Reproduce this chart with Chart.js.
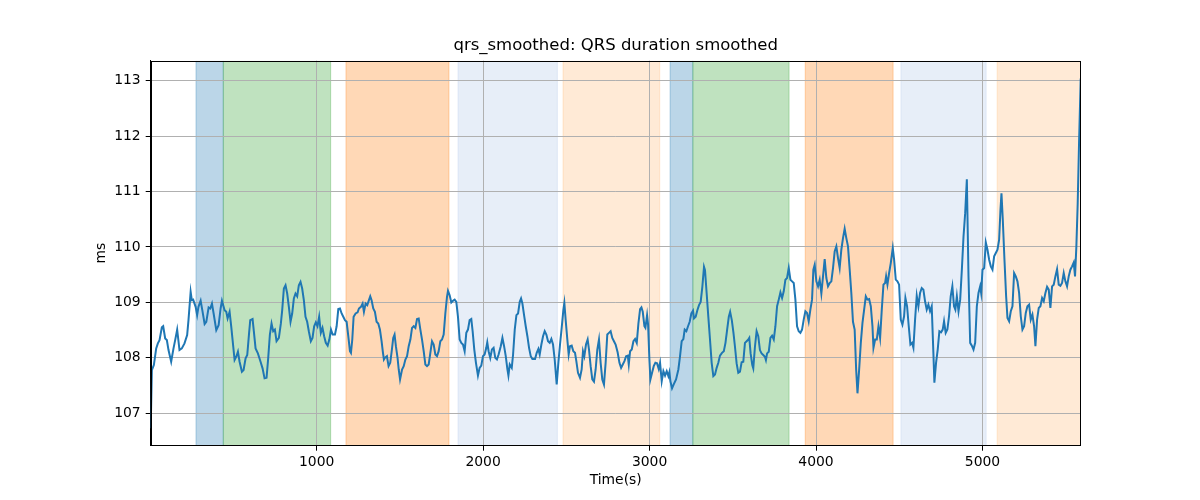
<!DOCTYPE html>
<html>
<head>
<meta charset="utf-8">
<title>qrs_smoothed</title>
<script src="https://cdn.jsdelivr.net/npm/chart.js@4"></script>
<style>
  html, body { margin: 0; padding: 0; background: #fff; }
  #chart { display: block; }
</style>
</head>
<body>
<canvas id="chart" width="1200" height="500"></canvas>
<script>
// time axis (s) and smoothed QRS duration (ms)
const times = [
  3, 10, 22, 36, 46, 56, 70, 78, 90, 100, 110, 126, 140, 150, 162, 176, 190, 206, 222, 230,
  243, 250, 258, 273, 282, 290, 303, 313, 327, 337, 351, 361, 371, 381, 397, 411, 423, 431, 447, 457,
  465, 477, 487, 499, 507, 517, 527, 537, 551, 561, 573, 583, 593, 601, 615, 623, 633, 647, 663, 675,
  687, 699, 709, 719, 729, 739, 749, 759, 773, 785, 793, 803, 813, 823, 833, 843, 853, 863, 873, 883,
  893, 903, 913, 923, 933, 943, 953, 965, 975, 985, 995, 1005, 1015, 1025, 1035, 1045, 1055, 1066, 1076, 1086,
  1096, 1110, 1120, 1130, 1140, 1150, 1160, 1170, 1180, 1190, 1200, 1206, 1214, 1222, 1234, 1246, 1254, 1266, 1276, 1284,
  1294, 1304, 1314, 1322, 1330, 1340, 1350, 1360, 1370, 1380, 1390, 1398, 1404, 1410, 1422, 1432, 1442, 1452, 1460, 1468,
  1476, 1486, 1493, 1501, 1513, 1523, 1533, 1543, 1553, 1563, 1573, 1583, 1593, 1603, 1613, 1623, 1633, 1643, 1653, 1663,
  1673, 1683, 1693, 1703, 1713, 1723, 1733, 1743, 1753, 1763, 1773, 1783, 1789, 1799, 1809, 1819, 1829, 1839, 1849, 1859,
  1869, 1879, 1889, 1899, 1909, 1919, 1929, 1937, 1947, 1957, 1969, 1979, 1989, 1999, 2009, 2019, 2025, 2033, 2043, 2053,
  2063, 2073, 2083, 2093, 2106, 2116, 2126, 2136, 2146, 2152, 2160, 2172, 2180, 2190, 2200, 2210, 2220, 2228, 2236, 2246,
  2256, 2266, 2276, 2286, 2296, 2312, 2322, 2332, 2340, 2350, 2360, 2370, 2380, 2390, 2400, 2410, 2420, 2430, 2442, 2452,
  2462, 2472, 2482, 2488, 2496, 2506, 2514, 2522, 2532, 2542, 2552, 2560, 2570, 2582, 2592, 2600, 2608, 2618, 2628, 2636,
  2646, 2656, 2666, 2676, 2686, 2696, 2706, 2716, 2726, 2736, 2746, 2756, 2766, 2776, 2786, 2796, 2808, 2819, 2829, 2839,
  2849, 2859, 2869, 2875, 2883, 2893, 2903, 2913, 2923, 2933, 2943, 2951, 2959, 2969, 2975, 2985, 2991, 2999, 3005, 3015,
  3025, 3035, 3045, 3055, 3063, 3073, 3083, 3093, 3103, 3113, 3119, 3125, 3135, 3145, 3159, 3173, 3183, 3193, 3203, 3211,
  3221, 3231, 3241, 3251, 3261, 3267, 3277, 3287, 3297, 3307, 3317, 3327, 3333, 3343, 3353, 3363, 3373, 3383, 3393, 3403,
  3413, 3423, 3435, 3446, 3456, 3466, 3476, 3484, 3494, 3504, 3513, 3523, 3533, 3543, 3553, 3563, 3573, 3583, 3593, 3599,
  3607, 3617, 3623, 3633, 3643, 3653, 3663, 3673, 3683, 3693, 3699, 3706, 3716, 3726, 3736, 3746, 3756, 3766, 3776, 3786,
  3796, 3806, 3816, 3826, 3836, 3846, 3856, 3866, 3876, 3886, 3896, 3906, 3916, 3926, 3936, 3946, 3956, 3966, 3976, 3984,
  3992, 4002, 4012, 4022, 4032, 4042, 4052, 4062, 4072, 4082, 4092, 4102, 4112, 4122, 4132, 4142, 4152, 4162, 4172, 4182,
  4192, 4202, 4212, 4222, 4232, 4241, 4249, 4259, 4269, 4279, 4289, 4299, 4309, 4319, 4329, 4339, 4345, 4355, 4365, 4375,
  4385, 4395, 4405, 4415, 4421, 4429, 4439, 4449, 4461, 4469, 4479, 4489, 4499, 4509, 4519, 4529, 4537, 4547, 4557, 4567,
  4577, 4585, 4595, 4605, 4615, 4625, 4635, 4645, 4655, 4665, 4675, 4685, 4695, 4705, 4711, 4721, 4731, 4741, 4751, 4761,
  4769, 4779, 4789, 4799, 4809, 4819, 4829, 4837, 4846, 4856, 4866, 4876, 4886, 4896, 4906, 4916, 4926, 4936, 4946, 4956,
  4966, 4976, 4986, 4992, 5000, 5010, 5020, 5030, 5040, 5050, 5060, 5070, 5080, 5090, 5100, 5108, 5114, 5122, 5132, 5142,
  5150, 5160, 5170, 5180, 5190, 5200, 5210, 5220, 5230, 5240, 5250, 5260, 5270, 5280, 5290, 5300, 5310, 5318, 5328, 5338,
  5348, 5358, 5368, 5378, 5388, 5398, 5408, 5418, 5428, 5438, 5448, 5458, 5468, 5478, 5488, 5498, 5508, 5518, 5528, 5538,
  5548, 5556, 5564, 5572, 5580, 5590
];
const qrs = [
  106.73, 107.78, 107.87, 108.17, 108.26, 108.32, 108.55, 108.57, 108.35, 108.32, 108.14, 107.93, 108.17, 108.32, 108.51, 108.14, 108.17, 108.26, 108.41, 108.68,
  109.19, 109.04, 109.05, 108.92, 108.77, 108.92, 109.03, 108.86, 108.61, 108.65, 108.91, 108.89, 108.98, 108.80, 108.50, 108.59, 108.89, 109.03, 108.86, 108.83,
  108.71, 108.83, 108.56, 108.20, 107.96, 108.02, 108.11, 107.93, 107.75, 107.78, 107.99, 108.05, 108.41, 108.68, 108.70, 108.47, 108.17, 108.08, 107.93, 107.81,
  107.63, 107.64, 108.00, 108.42, 108.62, 108.48, 108.51, 108.30, 108.36, 108.62, 108.86, 109.25, 109.31, 109.16, 108.92, 108.65, 108.80, 109.07, 109.16, 109.11,
  109.31, 109.37, 109.25, 109.04, 108.74, 108.65, 108.48, 108.30, 108.36, 108.57, 108.64, 108.57, 108.74, 108.45, 108.54, 108.39, 108.27, 108.22, 108.33, 108.51,
  108.42, 108.42, 108.57, 108.88, 108.89, 108.80, 108.74, 108.68, 108.65, 108.39, 108.12, 108.09, 108.33, 108.74, 108.80, 108.82, 108.89, 108.92, 108.98, 108.83,
  108.98, 108.95, 109.04, 109.11, 109.04, 108.89, 108.83, 108.65, 108.62, 108.51, 108.30, 108.10, 107.97, 108.00, 108.03, 107.85, 107.91, 108.15, 108.36, 108.42,
  108.21, 108.00, 107.79, 107.61, 107.79, 107.85, 107.97, 108.03, 108.21, 108.33, 108.54, 108.57, 108.54, 108.70, 108.71, 108.51, 108.33, 108.12, 107.88, 107.85,
  107.88, 108.09, 108.30, 108.24, 108.06, 108.03, 108.12, 108.30, 108.33, 108.42, 108.80, 109.10, 109.21, 109.13, 109.00, 109.03, 109.05, 109.01, 108.74, 108.33,
  108.27, 108.24, 108.12, 108.45, 108.51, 108.68, 108.70, 108.48, 108.15, 107.91, 107.68, 107.82, 107.86, 108.03, 108.06, 108.18, 108.28, 108.12, 108.00, 108.15,
  108.18, 108.00, 107.97, 108.06, 108.21, 108.36, 108.21, 108.03, 107.79, 107.68, 107.88, 107.82, 108.06, 108.51, 108.77, 108.80, 109.01, 109.07, 108.98, 108.77,
  108.57, 108.39, 108.18, 108.03, 107.98, 107.98, 108.09, 108.16, 108.06, 108.24, 108.39, 108.48, 108.42, 108.30, 108.27, 108.34, 108.24, 107.97, 107.52, 107.91,
  108.24, 108.54, 108.86, 108.99, 108.68, 108.33, 108.06, 108.21, 108.22, 108.12, 108.09, 107.94, 107.73, 107.64, 107.79, 108.12, 108.03, 108.24, 108.33, 108.15,
  107.85, 107.61, 107.57, 107.79, 108.15, 108.33, 107.91, 107.61, 107.52, 107.91, 108.42, 108.45, 108.48, 108.36, 108.30, 108.24, 108.10, 107.91, 107.82, 107.88,
  107.94, 108.03, 108.04, 107.88, 108.12, 108.15, 108.30, 108.34, 108.27, 108.62, 108.88, 108.91, 108.83, 108.57, 108.54, 108.77, 108.60, 107.97, 107.61, 107.73,
  107.85, 107.91, 107.90, 107.80, 107.91, 107.58, 107.76, 107.68, 107.76, 107.67, 107.74, 107.58, 107.45, 107.52, 107.61, 107.79, 108.03, 108.30, 108.34, 108.51,
  108.48, 108.57, 108.65, 108.80, 108.85, 108.71, 108.74, 108.86, 108.95, 109.01, 109.28, 109.64, 109.58, 109.16, 108.74, 108.33, 107.91, 107.67, 107.70, 107.82,
  107.91, 108.04, 108.09, 108.12, 108.27, 108.51, 108.74, 108.83, 108.68, 108.45, 108.20, 107.90, 107.73, 107.75, 107.92, 107.93, 108.27, 108.30, 108.33, 108.36,
  108.08, 107.87, 107.81, 108.20, 108.48, 108.39, 108.14, 108.08, 108.05, 108.02, 107.96, 108.08, 108.11, 108.36, 108.40, 108.33, 108.57, 108.93, 109.05, 109.18,
  109.08, 109.20, 109.41, 109.44, 109.62, 109.41, 109.38, 109.35, 109.05, 108.57, 108.48, 108.45, 108.51, 108.69, 108.84, 108.81, 108.66, 108.87, 109.05, 109.59,
  109.68, 109.38, 109.29, 109.41, 109.16, 109.47, 109.78, 109.44, 109.29, 109.35, 109.38, 109.62, 109.92, 110.01, 109.80, 109.62, 109.95, 110.16, 110.33, 110.16,
  110.01, 109.60, 109.17, 108.65, 108.51, 107.79, 107.36, 107.79, 108.27, 108.63, 108.87, 109.11, 109.05, 109.06, 108.93, 108.57, 108.18, 108.33, 108.33, 108.57,
  108.36, 108.87, 109.32, 109.35, 109.47, 109.32, 109.53, 109.71, 109.98, 109.77, 109.41, 109.38, 109.32, 108.69, 108.60, 108.75, 109.08, 108.93, 108.57, 108.24,
  108.27, 108.18, 108.69, 109.12, 108.93, 109.17, 109.26, 109.23, 109.02, 108.87, 108.96, 108.84, 108.93, 108.09, 107.55, 107.91, 108.15, 108.48, 108.46, 108.51,
  108.66, 108.45, 108.51, 108.75, 109.11, 109.29, 108.93, 108.87, 109.11, 108.84, 109.05, 109.59, 110.19, 110.61, 111.22, 109.47, 108.27, 108.22, 108.15, 108.27,
  108.93, 109.17, 109.29, 109.17, 109.59, 109.62, 110.08, 109.95, 109.77, 109.65, 109.59, 109.83, 109.89, 109.95, 110.13, 110.67, 110.97, 110.49, 109.77, 109.11,
  108.72, 108.66, 108.84, 108.93, 109.53, 109.47, 109.38, 109.17, 108.75, 108.51, 108.57, 108.81, 108.93, 108.96, 108.69, 108.78, 108.57, 108.21, 108.69, 108.90,
  108.93, 109.08, 109.02, 109.17, 109.28, 109.23, 108.90, 109.29, 109.32, 109.47, 109.60, 109.32, 109.30, 109.35, 109.53, 109.38, 109.29, 109.47, 109.59, 109.65,
  109.72, 109.47, 110.01, 110.79, 111.87, 113.04
];

// shaded phases
const bandStart = [275, 439, 1176, 1849, 2480, 3123, 3260, 3935, 4510, 5088];
const bandEnd = [439, 1084, 1795, 2446, 3061, 3260, 3838, 4463, 5022, 5600];
const bandColor = ["31,119,180", "44,160,44", "255,127,14", "174,199,232", "255,187,120",
                   "31,119,180", "44,160,44", "255,127,14", "174,199,232", "255,187,120"];

const xTicks = [1000, 2000, 3000, 4000, 5000];
const yTicks = [107, 108, 109, 110, 111, 112, 113];
const xMin = 3, xMax = 5590;
const yMin = 106.415, yMax = 113.36;

const titleText = "qrs_smoothed: QRS duration smoothed";
const font = "'DejaVu Sans', sans-serif";

const bands = {
  id: "bands",
  beforeDraw(chart) {
    const { ctx, chartArea, scales } = chart;
    ctx.save();
    ctx.beginPath();
    ctx.rect(chartArea.left, chartArea.top, chartArea.right - chartArea.left, chartArea.bottom - chartArea.top);
    ctx.clip();
    for (let i = 0; i < bandStart.length; i++) {
      const x0 = scales.x.getPixelForValue(bandStart[i]);
      const x1 = scales.x.getPixelForValue(bandEnd[i]);
      ctx.fillStyle = "rgba(" + bandColor[i] + ",0.3)";
      ctx.fillRect(x0, chartArea.top, x1 - x0, chartArea.bottom - chartArea.top);
      ctx.strokeStyle = "rgba(" + bandColor[i] + ",0.3)";
      ctx.lineWidth = 1;
      ctx.beginPath();
      ctx.moveTo(x0, chartArea.top); ctx.lineTo(x0, chartArea.bottom);
      ctx.moveTo(x1, chartArea.top); ctx.lineTo(x1, chartArea.bottom);
      ctx.stroke();
    }
    ctx.restore();
  }
};

// box around the axes + title centred on the plot area (matplotlib style)
const frame = {
  id: "frame",
  afterDatasetsDraw(chart) {
    const { ctx, chartArea } = chart;
    ctx.save();
    ctx.strokeStyle = "#000";
    ctx.lineWidth = 1;
    ctx.strokeRect(Math.round(chartArea.left) + 0.5, Math.round(chartArea.top) + 0.5,
      Math.round(chartArea.right - chartArea.left) - 1, Math.round(chartArea.bottom - chartArea.top) - 1);
    ctx.fillStyle = "#000";
    ctx.font = "16.5px " + font;
    ctx.textAlign = "center";
    ctx.textBaseline = "middle";
    ctx.fillText(titleText, (chartArea.left + chartArea.right) / 2, 45.5);
    ctx.restore();
  }
};

new Chart(document.getElementById("chart"), {
  type: "line",
  data: {
    datasets: [{
      data: times.map((t, i) => ({ x: t, y: qrs[i] })),
      borderColor: "#1f77b4",
      borderWidth: 2,
      pointRadius: 0,
      tension: 0,
      fill: false
    }]
  },
  options: {
    responsive: false,
    animation: false,
    layout: { padding: { left: 0, right: 119.3, top: 60.7, bottom: 0 } },
    plugins: {
      legend: { display: false },
      tooltip: { enabled: false },
      title: { display: false }
    },
    scales: {
      x: {
        type: "linear",
        min: xMin,
        max: xMax,
        afterBuildTicks: s => { s.ticks = xTicks.map(v => ({ value: v })); },
        afterFit: s => { s.height = 54.3; },
        ticks: { color: "#000", font: { family: font, size: 13.9 }, padding: 3, maxRotation: 0, callback: v => String(v) },
        grid: { color: "#b0b0b0", lineWidth: 1, tickColor: "#000", tickLength: 5 },
        border: { display: true, color: "#000", width: 1 },
        title: { display: true, text: "Time(s)", color: "#000", font: { family: font, size: 13.9 }, padding: { top: 4, bottom: 11 } }
      },
      y: {
        type: "linear",
        min: yMin,
        max: yMax,
        afterBuildTicks: s => { s.ticks = yTicks.map(v => ({ value: v })); },
        afterFit: s => { s.width = 150.7; },
        ticks: { color: "#000", font: { family: font, size: 13.9 }, padding: 5, callback: v => String(v) },
        grid: { color: "#b0b0b0", lineWidth: 1, tickColor: "#000", tickLength: 5 },
        border: { display: true, color: "#000", width: 1 },
        title: { display: true, text: "ms", color: "#000", font: { family: font, size: 13.9 }, padding: { top: 93, bottom: 0 } }
      }
    }
  },
  plugins: [bands, frame]
});
</script>
</body>
</html>
